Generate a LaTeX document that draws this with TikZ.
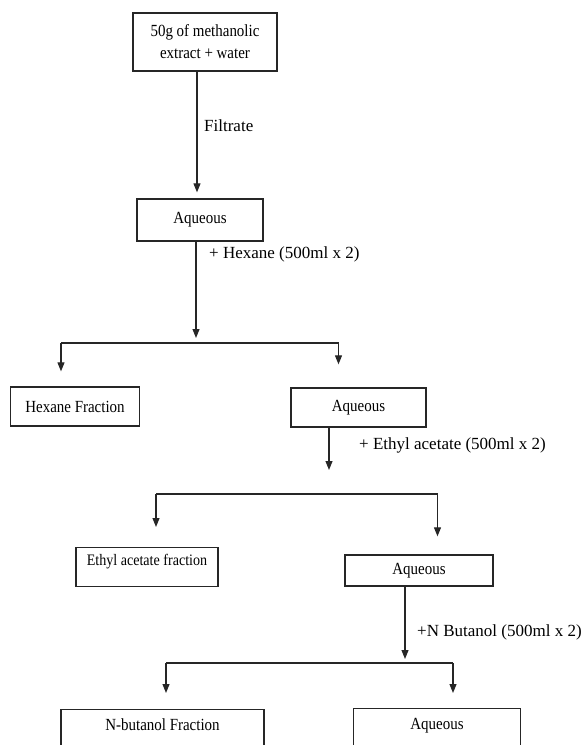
\documentclass[tikz,border=0pt]{standalone}
\usepackage{fontspec}
\setmainfont{Liberation Serif}
\newfontfamily\narrowserif{Liberation Serif}[FakeStretch=0.88]
\usepackage{tikz}
\usetikzlibrary{arrows.meta,positioning}

\begin{document}
\begin{tikzpicture}[
        x=1pt, y=-1pt,
        box/.style={draw=black!85, line width=1.3pt, align=center, inner sep=0pt, font=\narrowserif\fontsize{17}{22}\selectfont},
        lbl/.style={anchor=west, inner sep=0pt, font=\fontsize{17}{20}\selectfont},
        arr/.style={-{Triangle[length=9pt,width=7pt]}, line width=1.1pt, draw=black!85},
        split/.style={line width=1.1pt, draw=black!85}
    ]
        \useasboundingbox (0,0) rectangle (582,745);
        \clip (0,0) rectangle (582,745);
        \node[box, minimum width=144pt, minimum height=58pt] (extract) at (205,42) {50g of methanolic\\ extract + water};
        \node[box, minimum width=126pt, minimum height=42pt] (aqone) at (200,220) {Aqueous};
        \node[box, minimum width=129pt, minimum height=39pt] (hexfrac) at (75,406.5) {Hexane Fraction};
        \node[box, minimum width=135pt, minimum height=39pt] (aqtwo) at (358.5,407.5) {Aqueous};
        \node[box, anchor=north, minimum width=142pt, text height=18pt, text depth=21pt, font=\narrowserif\fontsize{16}{19}\selectfont] (ethfrac) at (147,547) {Ethyl acetate fraction};
        \node[box, minimum width=148pt, minimum height=31pt] (aqthree) at (419,570.5) {Aqueous};
        \node[box, anchor=north, minimum width=203pt, text height=21pt, text depth=30pt] (butfrac) at (162.5,709) {N-butanol Fraction};
        \node[box, anchor=north, minimum width=167pt, text height=21pt, text depth=30pt] (aqfour) at (437,708) {Aqueous};
        % labels beside the arrows
        \node[lbl] (filtrate) at (204,126) {Filtrate};
        \node[lbl] (hexane) at (209,254) {+ Hexane (500ml x 2)};
        \node[lbl] (ethyl) at (359,445) {+ Ethyl acetate (500ml x 2)};
        \node[lbl] (butanol) at (417,632) {+N Butanol (500ml x 2)};
        % split points
        \coordinate (jone) at (196,343);
        \coordinate (sonel) at (61,343);
        \coordinate (soner) at (338.5,343);
        \coordinate (jtwo) at (329,494);
        \coordinate (stwol) at (156,494);
        \coordinate (stwor) at (437.5,494);
        \coordinate (jthree) at (405,663);
        \coordinate (sthreel) at (166,663);
        \coordinate (sthreer) at (453,663);
        \draw[arr, shorten >=6pt] ([xshift=-8pt]extract.south) -- ([xshift=-3pt]aqone.north);
        \draw[arr, shorten >=5pt] (aqone.south -| jone) -- (jone);
        \draw[split] (sonel) -- (soner);
        \draw[arr, shorten >=15pt] (sonel) -- (sonel |- hexfrac.north);
        \draw[arr, shorten >=23pt] (soner) -- (soner |- aqtwo.north);
        \draw[arr, shorten >=24pt] (aqtwo.south -| jtwo) -- (jtwo);
        \draw[split] (stwol) -- (stwor);
        \draw[arr, shorten >=20pt] (stwol) -- (stwol |- ethfrac.north);
        \draw[arr, shorten >=18pt] (stwor) -- (stwor |- aqthree.north);
        \draw[arr, shorten >=4pt] (aqthree.south -| jthree) -- (jthree);
        \draw[split] (sthreel) -- (sthreer);
        \draw[arr, shorten >=16pt] (sthreel) -- (sthreel |- butfrac.north);
        \draw[arr, shorten >=15pt] (sthreer) -- (sthreer |- aqfour.north);
    \end{tikzpicture}
\end{document}
